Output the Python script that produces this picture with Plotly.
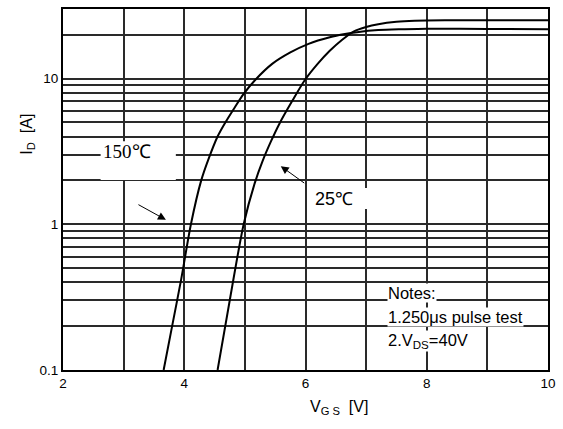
import math
import plotly.graph_objects as go

# ---- data ----
vgs_150 = [3.66, 3.80, 3.95, 4.11, 4.28, 4.40, 4.55, 4.68, 4.83, 4.98, 5.17, 5.45, 5.75, 6.05, 6.40, 6.65, 6.85, 7.20, 7.60, 8.00, 9.00, 10.0]
id_150 = [0.10, 0.20, 0.42, 1.00, 2.00, 2.80, 4.00, 5.01, 6.31, 7.85, 9.77, 12.6, 15.1, 17.3, 19.2, 20.2, 20.8, 21.5, 21.8, 22.0, 21.9, 21.8]

vgs_25 = [4.55, 4.75, 4.98, 5.16, 5.29, 5.43, 5.57, 5.78, 5.99, 6.20, 6.40, 6.60, 6.80, 7.00, 7.20, 7.50, 7.80, 8.30, 10.0]
id_25 = [0.10, 0.30, 1.00, 1.90, 2.70, 3.70, 4.90, 7.00, 9.77, 12.6, 15.5, 18.4, 21.1, 22.6, 23.6, 24.5, 24.9, 25.1, 25.1]

x_major = [2, 4, 6, 8, 10]
x_minor = [3, 5, 7, 9]
y_major = [0.1, 1, 10]
y_major_text = ["0.1", "1", "10"]
y_minor = [0.2, 0.3, 0.4, 0.5, 0.6, 0.7, 0.8, 0.9,
           2, 3, 4, 5, 6, 7, 8, 9, 20]

# ---- layout geometry (pixels) ----
W, H = 563, 429
L, R, T, B = 63, 553, 7, 370


def fx(p):
    return (p - L) / (R - L)


def fy(p):
    return (B - p) / (B - T)


SANS = "Liberation Sans, Arial, sans-serif"
SERIF = "Liberation Serif, serif"
GRID = "#2a2a2a"

fig = go.Figure()
fig.add_trace(go.Scatter(x=vgs_150, y=id_150, mode="lines",
                         line=dict(color="black", width=2, shape="spline", smoothing=0.8),
                         showlegend=False, hoverinfo="skip"))
fig.add_trace(go.Scatter(x=vgs_25, y=id_25, mode="lines",
                         line=dict(color="black", width=2, shape="spline", smoothing=0.8),
                         showlegend=False, hoverinfo="skip"))

shapes = [
    dict(type="rect", xref="paper", yref="paper", x0=fx(101), x1=fx(177), y0=fy(179), y1=fy(140),
         fillcolor="white", line=dict(width=0), layer="above"),
    dict(type="rect", xref="paper", yref="paper", x0=fx(310), x1=fx(378), y0=fy(208), y1=fy(187),
         fillcolor="white", line=dict(width=0), layer="above"),
]

annotations = [
    dict(text="150℃", xref="paper", yref="paper", x=fx(128), y=fy(150), showarrow=False,
         xanchor="center", yanchor="middle", font=dict(family=SERIF, size=19, color="black")),
    dict(text="25℃", xref="paper", yref="paper", x=fx(337), y=fy(198), showarrow=False,
         xanchor="center", yanchor="middle", font=dict(family=SANS, size=18, color="black")),
    # arrows
    dict(text="", xref="paper", yref="paper", x=fx(283), y=fy(165), ax=25, ay=18,
         showarrow=True, arrowhead=2, arrowsize=1.6, arrowwidth=1, arrowcolor="black"),
    dict(text="", xref="paper", yref="paper", x=fx(167), y=fy(219), ax=-29, ay=-16,
         showarrow=True, arrowhead=2, arrowsize=1.6, arrowwidth=1, arrowcolor="black"),
    # notes
    dict(text="Notes:", xref="paper", yref="paper", x=fx(390), y=fy(293), showarrow=False,
         xanchor="left", yanchor="middle", bgcolor="white", borderpad=0,
         font=dict(family=SANS, size=16.5, color="black")),
    dict(text="1.250μs pulse test", xref="paper", yref="paper", x=fx(390), y=fy(317), showarrow=False,
         xanchor="left", yanchor="middle", bgcolor="white", borderpad=0,
         font=dict(family=SANS, size=16.5, color="black")),
    dict(text="2.V<sub>DS</sub>=40V", xref="paper", yref="paper", x=fx(390), y=fy(341), showarrow=False,
         xanchor="left", yanchor="middle", bgcolor="white", borderpad=0,
         font=dict(family=SANS, size=16.5, color="black")),
    # axis titles
    dict(text="I<sub>D</sub>  [A]", xref="paper", yref="paper", x=fx(27), y=fy(133), showarrow=False,
         textangle=-90, xanchor="center", yanchor="middle",
         font=dict(family=SANS, size=16, color="black")),
    dict(text="V<sub>G S</sub>  [V]", xref="paper", yref="paper", x=fx(342), y=fy(408), showarrow=False,
         xanchor="center", yanchor="middle",
         font=dict(family=SANS, size=16, color="black")),
]

fig.update_layout(
    width=W, height=H,
    margin=dict(l=L, r=W - R, t=T, b=H - B, pad=0),
    paper_bgcolor="white", plot_bgcolor="white",
    shapes=shapes, annotations=annotations,
    xaxis=dict(range=[2, 10], tickmode="array", tickvals=x_major,
               showgrid=True, gridcolor=GRID, gridwidth=1.5,
               minor=dict(tickmode="array", tickvals=x_minor, showgrid=True,
                          gridcolor=GRID, gridwidth=1.5, ticks=""),
               showline=True, linecolor="black", linewidth=2, mirror=True,
               ticks="", zeroline=False,
               tickfont=dict(family=SANS, size=13.5, color="black")),
    yaxis=dict(type="log", range=[-1, math.log10(30)], tickmode="array",
               tickvals=y_major, ticktext=y_major_text,
               showgrid=True, gridcolor=GRID, gridwidth=1.5,
               minor=dict(tickmode="array", tickvals=y_minor, showgrid=True,
                          gridcolor=GRID, gridwidth=1.5, ticks=""),
               showline=True, linecolor="black", linewidth=2, mirror=True,
               ticks="", zeroline=False,
               tickfont=dict(family=SANS, size=13.5, color="black")),
)

fig.write_html("out.html")
